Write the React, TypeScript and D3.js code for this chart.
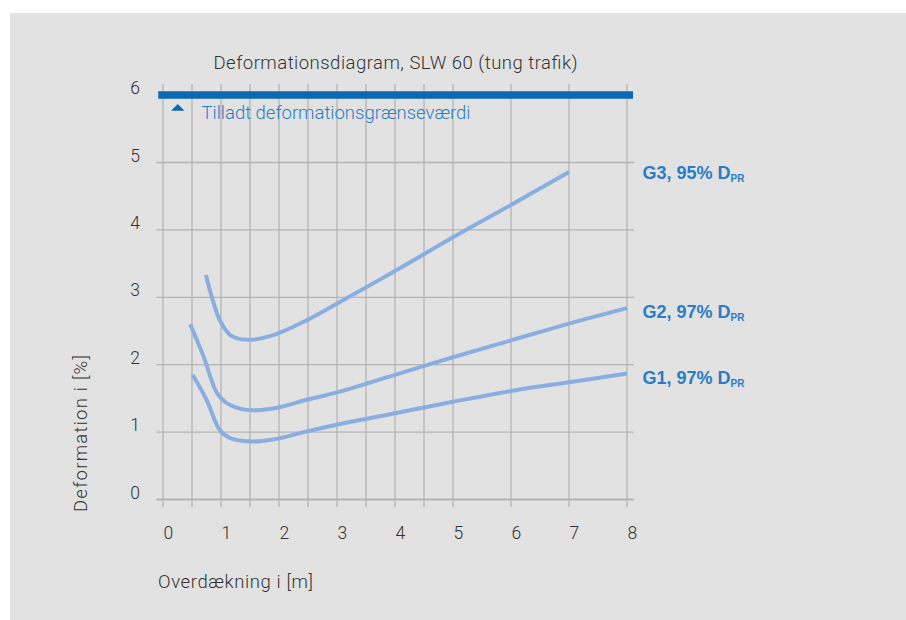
import React from 'react';
import * as d3 from 'd3';

// values
const xTickLabels = [0, 1, 2, 3, 4, 5, 6, 7, 8];
const xGridTicks = [0, 0.5, 1, 1.5, 2, 2.5, 3, 3.5, 4, 4.5, 5, 6, 7, 8];
const yTicks = [0, 1, 2, 3, 4, 5];
const limitValue = 6;

const g3X = [0.74, 0.84, 0.98, 1.16, 1.44, 1.9, 2.48, 3.05, 4, 5, 6, 7];
const g3Y = [3.33, 3.01, 2.66, 2.44, 2.37, 2.44, 2.66, 2.93, 3.39, 3.89, 4.37, 4.86];
const g2X = [0.47, 0.7, 0.93, 1.1, 1.44, 1.9, 2.48, 3.05, 4, 5, 6, 7, 8];
const g2Y = [2.6, 2.12, 1.58, 1.43, 1.33, 1.35, 1.48, 1.6, 1.85, 2.11, 2.36, 2.61, 2.84];
const g1X = [0.51, 0.75, 0.98, 1.16, 1.5, 1.9, 2.48, 3.05, 4, 5, 6, 7, 8];
const g1Y = [1.85, 1.48, 1.03, 0.91, 0.86, 0.89, 1.01, 1.12, 1.28, 1.45, 1.61, 1.74, 1.87];

const seriesNames = ['G3, 95% D', 'G2, 97% D', 'G1, 97% D'];
const seriesLabelY = [4.75, 2.69, 1.71];

const title = 'Deformationsdiagram, SLW 60 (tung trafik)';
const limitLabel = 'Tilladt deformationsgrænseværdi';
const xTitle = 'Overdækning i [m]';
const yTitle = 'Deformation i [%]';

const width = 906;
const height = 620;
const font = "Roboto, 'Liberation Sans', Arial, sans-serif";
const boldFont = "'Liberation Sans', Arial, sans-serif";
const gridColor = '#b4b4b4';
const curveColor = '#8aaee0';
const darkBlue = '#0a69b3';
const labelBlue = '#2a7cc6';
const textColor = '#333';

function App() {
    const x = d3.scaleLinear().domain([0, 8]).range([163, 627]);
    const y = d3.scaleLinear().domain([0, 6]).range([499.5, 95.1]);

    const line = d3.line<[number, number]>()
        .x(d => x(d[0]))
        .y(d => y(d[1]))
        .curve(d3.curveCatmullRom.alpha(0.5));

    const series = [
        d3.zip(g3X, g3Y) as [number, number][],
        d3.zip(g2X, g2Y) as [number, number][],
        d3.zip(g1X, g1Y) as [number, number][],
    ];

    const left = x(0) - 6.5;
    const right = x(8) + 7;

    return (
        <svg width={width} height={height} style={{position: 'fixed', left: 0, top: 0}} fontFamily={font}>
            <rect x={10} y={13} width={width - 10} height={height - 13} fill="#e2e2e2"/>

            <text x={213.5} y={69} fontSize={18.5} fontWeight={300} fill={textColor}
                  textLength={364} lengthAdjust="spacing">{title}</text>

            {/* vertical grid */}
            {xGridTicks.map(t => (
                <line key={'vx' + t} x1={x(t)} x2={x(t)} y1={84} y2={507} stroke={gridColor} strokeWidth={1.3}/>
            ))}
            {/* horizontal grid */}
            {yTicks.map(t => (
                <line key={'hy' + t} x1={left} x2={right} y1={y(t)} y2={y(t)} stroke={gridColor}
                      strokeWidth={t === 0 ? 1.8 : 1.3}/>
            ))}
            {/* limit line */}
            <line x1={x(0) - 4.7} x2={right - 1} y1={y(limitValue)} y2={y(limitValue)} stroke={darkBlue} strokeWidth={7.5}/>
            <path d={`M${x(0.14)},110.8 L${x(0.37)},110.8 L${x(0.255)},104 Z`} fill={darkBlue}/>
            <text x={201.5} y={118.5} fontSize={18.5} fontWeight={300} fill={labelBlue}
                  textLength={269} lengthAdjust="spacing">{limitLabel}</text>

            {/* y tick labels */}
            {[...yTicks, limitValue].map(t => (
                <text key={'yl' + t} x={140} y={y(t) - 1} textAnchor="end" fontSize={17.5} fontWeight={300} fill={textColor}>{t}</text>
            ))}
            {/* x tick labels */}
            {xTickLabels.map(t => (
                <text key={'xl' + t} x={x(t) + 0.5} y={539} fontSize={17.5} fontWeight={300} fill={textColor}>{t}</text>
            ))}

            {series.map((s, i) => (
                <path key={'s' + i} d={line(s) || ''} fill="none" stroke={curveColor} strokeWidth={4}/>
            ))}

            {seriesNames.map((n, i) => (
                <text key={'n' + i} x={642.5} y={y(seriesLabelY[i])} fontFamily={boldFont} fontSize={18}
                      fontWeight={700} fill={labelBlue}>
                    {n}<tspan fontSize={10} dy={3}>PR</tspan>
                </text>
            ))}

            <text x={158} y={588} fontSize={18.5} fontWeight={300} fill={textColor}
                  textLength={155} lengthAdjust="spacing">{xTitle}</text>
            <text transform={`translate(86.5,512) rotate(-90)`} fontSize={18.5} fontWeight={300} fill={textColor}
                  textLength={157} lengthAdjust="spacing">{yTitle}</text>
        </svg>
    );
}

export default App;
